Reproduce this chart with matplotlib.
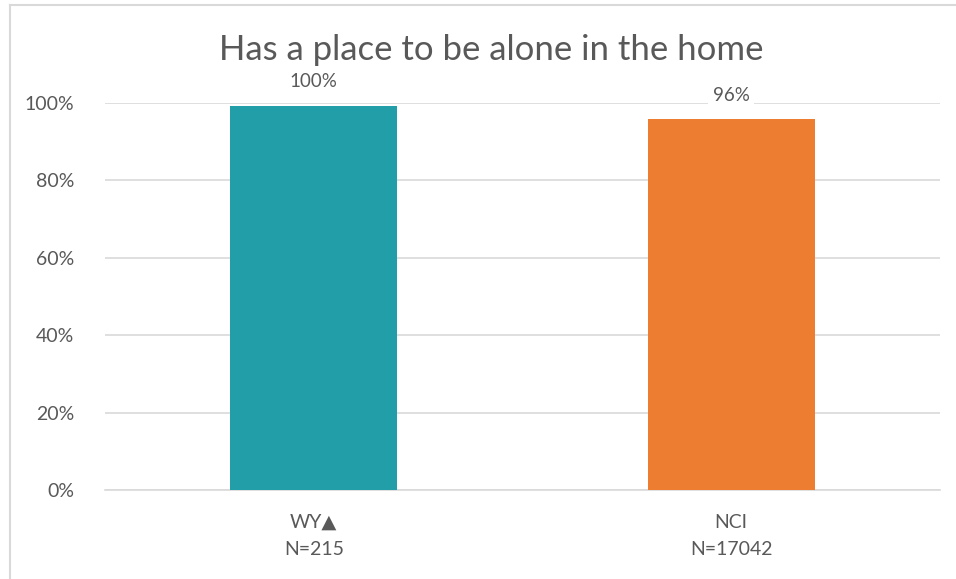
import matplotlib

matplotlib.use("Agg")

import matplotlib.pyplot as plt
from matplotlib.lines import Line2D

categories = ["WY\u25B2\nN=215", "NCI\nN=17042"]
values = [0.993, 0.959]
value_labels = ["100%", "96%"]
bar_colors = ["#219EA7", "#ED7D31"]
y_ticks = [0, 0.2, 0.4, 0.6, 0.8, 1.0]
y_tick_labels = ["0%", "20%", "40%", "60%", "80%", "100%"]

TEXT = "#595959"
GRID = "#D9D9D9"

plt.rcParams["font.family"] = ["Lato", "DejaVu Sans"]

W, H = 956, 579
fig = plt.figure(figsize=(W / 100, H / 100), dpi=100)
ax = fig.add_axes([105 / W, 1 - 490 / H, (940 - 105) / W, (490 - 103) / H])

x = list(range(len(categories)))
ax.bar(x, values, width=0.4, color=bar_colors, zorder=3)

for xi, v, lab in zip(x, values, value_labels):
    ax.annotate(lab, (xi, v), xytext=(0, 11), textcoords="offset points",
                ha="center", va="bottom", fontsize=13.5, color=TEXT, zorder=4,
                bbox=dict(boxstyle="square,pad=0.25", fc="white", ec="none"))

ax.set_xlim(-0.5, 1.5)
ax.set_ylim(0, 1)
ax.set_yticks(y_ticks)
ax.set_yticklabels(y_tick_labels)
ax.set_xticks(x)
ax.set_xticklabels(categories, linespacing=1.75)
ax.tick_params(axis="both", length=0, labelsize=14, labelcolor=TEXT)
ax.tick_params(axis="y", pad=22)
ax.tick_params(axis="x", pad=17)
ax.grid(axis="y", color=GRID, linewidth=1.2, zorder=0)
for side in ["top", "right", "left"]:
    ax.spines[side].set_visible(False)
ax.spines["bottom"].set_color(GRID)
ax.spines["bottom"].set_linewidth(1.2)

fig.text(491 / W, 1 - 50 / H, "Has a place to be alone in the home",
         ha="center", va="center", fontsize=25, color=TEXT)

# chart area border
fig.add_artist(Line2D([10 / W, 10 / W], [0, 1 - 5 / H], transform=fig.transFigure,
                      color=GRID, linewidth=1.5))
fig.add_artist(Line2D([10 / W, 1], [1 - 5 / H, 1 - 5 / H], transform=fig.transFigure,
                      color=GRID, linewidth=1.5))

fig.savefig("out.png", dpi=100)
